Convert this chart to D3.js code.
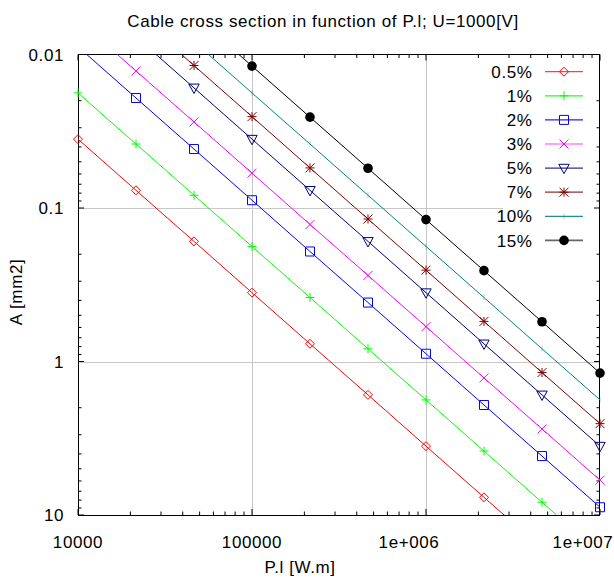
<!DOCTYPE html>
<html>
<head>
<meta charset="utf-8">
<script src="https://cdn.jsdelivr.net/npm/d3@7"></script>
<style>
  html, body { margin: 0; padding: 0; background: #fff; }
  svg { display: block; font-family: "Liberation Sans", Arial, sans-serif; }
</style>
</head>
<body>
<svg id="chart" width="614" height="585"></svg>
<script>
// ---- data ----
const titleText = "Cable cross section in function of P.l; U=1000[V]";
const xLabelText = "P.l [W.m]";
const yLabelText = "A [mm2]";

const pl = [1e4, 2.154e4, 4.642e4, 1e5, 2.154e5, 4.642e5, 1e6, 2.154e6, 4.642e6, 1e7];

const a05 = [0.0356, 0.0767, 0.165, 0.356, 0.767, 1.65, 3.56, 7.67, 16.5, 35.6];
const a1  = [0.0178, 0.0383, 0.0826, 0.178, 0.383, 0.826, 1.78, 3.83, 8.26, 17.8];
const a2  = [0.0089, 0.0192, 0.0413, 0.089, 0.192, 0.413, 0.89, 1.92, 4.13, 8.9];
const a3  = [0.00593, 0.0128, 0.0275, 0.0593, 0.128, 0.275, 0.593, 1.28, 2.75, 5.93];
const a5  = [0.00356, 0.00767, 0.0165, 0.0356, 0.0767, 0.165, 0.356, 0.767, 1.65, 3.56];
const a7  = [0.00254, 0.00548, 0.0118, 0.0254, 0.0548, 0.118, 0.254, 0.548, 1.18, 2.54];
const a10 = [0.00178, 0.00383, 0.00826, 0.0178, 0.0383, 0.0826, 0.178, 0.383, 0.826, 1.78];
const a15 = [0.00119, 0.00256, 0.00551, 0.0119, 0.0256, 0.0551, 0.119, 0.256, 0.551, 1.19];

const seriesNames = ["0.5%", "1%", "2%", "3%", "5%", "7%", "10%", "15%"];
const seriesValues = [a05, a1, a2, a3, a5, a7, a10, a15];

const xTicks = [1e4, 1e5, 1e6, 1e7];
const xTickLabels = ["10000", "100000", "1e+006", "1e+007"];
const yTicks = [0.01, 0.1, 1, 10];
const yTickLabels = ["0.01", "0.1", "1", "10"];

// ---- styles ----
const colors = ["#ff0000", "#00ff00", "#0000ff", "#ff00ff", "#000080", "#800000", "#008080", "#000000"];
const legendLineColors = ["#ff4040", "#20ff20", "#2020ff", "#ff40ff", "#303090", "#903030", "#209090", "#666666"];
const markerTypes = ["diamond", "plus", "square", "cross", "tridown", "star", "tick", "circle"];

const W = 614, H = 585;
const L = 78, R = 600, T = 54.5, B = 515;

const svg = d3.select("#chart");

const x = d3.scaleLog().domain([1e4, 1e7]).range([L, R]);
const y = d3.scaleLog().domain([0.01, 10]).range([T, B]);

const fontSize = 17;
const ls = "0.6px";

// minor ticks
function minors(domain) {
  const out = [];
  for (let e = Math.log10(domain[0]); e < Math.log10(domain[1]) - 1e-9; e++) {
    for (let m = 2; m <= 9; m++) out.push(m * Math.pow(10, e));
  }
  return out;
}
const xMinor = minors(x.domain());
const yMinor = minors(y.domain());

// grid
const grid = svg.append("g").attr("stroke", "#c8c8c8").attr("stroke-width", 1);
xTicks.slice(1, -1).forEach(v => {
  const px = Math.round(x(v)) + 0.5;
  grid.append("line").attr("x1", px).attr("x2", px).attr("y1", T).attr("y2", B);
});
yTicks.slice(1, -1).forEach(v => {
  const py = Math.round(y(v)) + 0.5;
  grid.append("line").attr("x1", L).attr("x2", R).attr("y1", py).attr("y2", py);
});

// legend background
const legRowY0 = 71.7, legRowStep = 24.1;
svg.append("rect").attr("x", 503).attr("y", T + 1).attr("width", R - 503 - 1)
  .attr("height", legRowY0 + legRowStep * 7 + 12 - T).attr("fill", "#fff");

// border + ticks
const axisG = svg.append("g").attr("stroke", "#000").attr("stroke-width", 1).attr("fill", "none");
axisG.append("rect").attr("x", L + 0.5).attr("y", T).attr("width", R - L - 1).attr("height", B - T)
  .attr("shape-rendering", "crispEdges");
const majLen = 6, minLen = 3.5;
function xTick(v, len) {
  const px = x(v);
  axisG.append("line").attr("x1", px).attr("x2", px).attr("y1", B).attr("y2", B - len);
  axisG.append("line").attr("x1", px).attr("x2", px).attr("y1", T).attr("y2", T + len);
}
function yTick(v, len) {
  const py = y(v);
  axisG.append("line").attr("x1", L).attr("x2", L + len).attr("y1", py).attr("y2", py);
  axisG.append("line").attr("x1", R).attr("x2", R - len).attr("y1", py).attr("y2", py);
}
xTicks.forEach(v => xTick(v, majLen));
xMinor.forEach(v => xTick(v, minLen));
yTicks.forEach(v => yTick(v, majLen));
yMinor.forEach(v => yTick(v, minLen));

// tick labels
const tl = svg.append("g").attr("font-size", fontSize).attr("fill", "#000").style("letter-spacing", ls);
xTicks.forEach((v, i) => {
  const lab = xTickLabels[i];
  const shift = lab.indexOf("e+") >= 0 ? -17 : 0;
  tl.append("text").attr("x", x(v) + shift).attr("y", 547.5).attr("text-anchor", "middle").text(lab);
});
yTicks.forEach((v, i) => {
  tl.append("text").attr("x", 64).attr("y", y(v)).attr("dy", "0.36em")
    .attr("text-anchor", "end").text(yTickLabels[i]);
});

// title & axis labels
svg.append("text").attr("x", 323).attr("y", 26.5).attr("text-anchor", "middle")
  .attr("font-size", fontSize).style("letter-spacing", ls).text(titleText);
svg.append("text").attr("x", 300).attr("y", 573).attr("text-anchor", "middle")
  .attr("font-size", fontSize).style("letter-spacing", ls).text(xLabelText);
svg.append("text").attr("transform", "translate(22," + 292 + ") rotate(-90)")
  .attr("text-anchor", "middle").attr("font-size", fontSize).style("letter-spacing", ls).text(yLabelText);

// clip
svg.append("clipPath").attr("id", "plotclip").append("rect")
  .attr("x", L).attr("y", T).attr("width", R - L).attr("height", B - T);

const line = d3.line().x(d => x(d[0])).y(d => y(d[1]));

function drawMarker(g, type, color, cx, cy) {
  const s = 4.5;
  const tr = "translate(" + cx + "," + cy + ")";
  if (type === "circle") {
    g.append("circle").attr("cx", cx).attr("cy", cy).attr("r", 4.8).attr("fill", color);
    return;
  }
  let d = "";
  if (type === "diamond") d = `M0,${-s}L${s},0L0,${s}L${-s},0Z`;
  else if (type === "plus") d = `M${-s},0H${s}M0,${-s}V${s}`;
  else if (type === "square") d = `M${-s},${-s}H${s}V${s}H${-s}Z`;
  else if (type === "cross") d = `M${-s},${-s}L${s},${s}M${-s},${s}L${s},${-s}`;
  else if (type === "tridown") d = `M-5.2,-3.8H5.2L0,5.6Z`;
  else if (type === "star") d = `M${-s},0H${s}M0,${-s}V${s}M${-s},${-s}L${s},${s}M${-s},${s}L${s},${-s}`;
  else if (type === "tick") {
    g.append("path").attr("transform", tr).attr("d", "M0,-3V3")
      .attr("stroke", color).attr("stroke-opacity", 0.35).attr("fill", "none");
    return;
  }
  g.append("path").attr("transform", tr).attr("d", d)
    .attr("stroke", color).attr("stroke-width", 1).attr("fill", "none");
}

// curves
const curves = svg.append("g");
seriesValues.forEach((vals, i) => {
  const pts = pl.map((p, j) => [p, vals[j]]);
  curves.append("path").datum(pts).attr("d", line)
    .attr("clip-path", "url(#plotclip)")
    .attr("fill", "none").attr("stroke", colors[i]).attr("stroke-width", 1);
  const mg = curves.append("g");
  pts.forEach(d => {
    if (d[1] >= 0.01 - 1e-12 && d[1] <= 10 && d[0] >= 1e4 && d[0] <= 1e7) {
      drawMarker(mg, markerTypes[i], colors[i], x(d[0]), y(d[1]));
    }
  });
});

// legend
const leg = svg.append("g");
seriesNames.forEach((name, i) => {
  const cy = legRowY0 + legRowStep * i;
  leg.append("text").attr("x", 532.5).attr("y", cy).attr("dy", "0.36em").attr("text-anchor", "end")
    .attr("font-size", fontSize).style("letter-spacing", ls).text(name);
  leg.append("line").attr("x1", 545).attr("x2", 583).attr("y1", cy).attr("y2", cy)
    .attr("stroke", legendLineColors[i]).attr("stroke-width", i === 7 ? 1.6 : 1.2);
  drawMarker(leg, markerTypes[i], colors[i], 564, cy);
});
</script>
</body>
</html>
